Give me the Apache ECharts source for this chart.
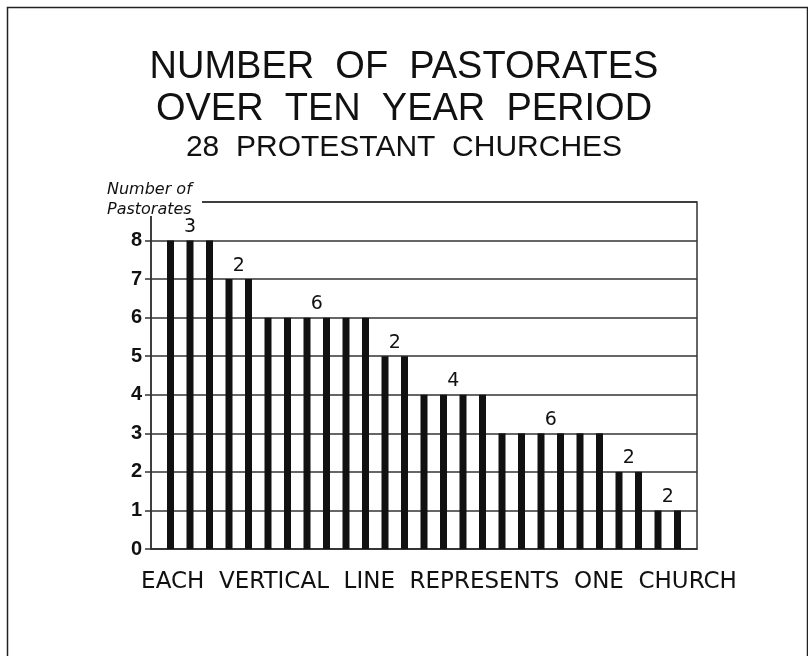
<!DOCTYPE html>
<html>
<head>
<meta charset="utf-8">
<script src="https://cdn.jsdelivr.net/npm/echarts@6/dist/echarts.min.js"></script>
<style>
  html, body { margin: 0; padding: 0; background: #fff; }
  #chart { width: 808px; height: 656px; }
</style>
</head>
<body>
<div id="chart"></div>
<script>
// number of pastorates per church, one bar per church, highest first
const pastorates = [8, 8, 8, 7, 7, 6, 6, 6, 6, 6, 6, 5, 5, 4, 4, 4, 4, 3, 3, 3, 3, 3, 3, 2, 2, 1, 1];
const yTicks = ['0', '1', '2', '3', '4', '5', '6', '7', '8'];

const titleLines = ['NUMBER  OF  PASTORATES', 'OVER  TEN  YEAR  PERIOD'];
const subTitle = '28  PROTESTANT  CHURCHES';
const footNote = 'EACH  VERTICAL  LINE  REPRESENTS  ONE  CHURCH';

const INK = '#111';
const LINE = '#333';
const FONT = 'Liberation Sans';

// bars sit at x = 1..27 on a 0..28 value axis
var barData = pastorates.map(function (v, i) { return [i + 1, v]; });

// group runs of equal values, label shows how many churches are in the run
var groups = [];
pastorates.forEach(function (v, i) {
  var last = groups[groups.length - 1];
  if (last && last.value == v) {
    last.end = i + 1;
    last.count++;
  } else {
    groups.push({ value: v, start: i + 1, end: i + 1, count: 1 });
  }
});
var groupData = groups.map(function (g) {
  return { value: [(g.start + g.end) / 2, g.value], count: g.count };
});

var chart = echarts.init(document.getElementById('chart'), null, { renderer: 'canvas' });

var option = {
  backgroundColor: '#fff',
  animation: false,
  title: [{
    text: titleLines.join('\n'),
    left: 'center',
    top: 42,
    textStyle: { fontFamily: FONT, fontSize: 38, fontWeight: 'normal', color: INK, lineHeight: 42 }
  }, {
    text: subTitle,
    left: 'center',
    top: 128,
    textStyle: { fontFamily: FONT, fontSize: 30, fontWeight: 'normal', color: INK }
  }],
  grid: {
    left: 151,
    right: 111,
    top: 202,
    bottom: 107,
    show: true,
    borderColor: LINE,
    borderWidth: 1.5
  },
  xAxis: {
    type: 'value',
    min: 0,
    max: 28,
    interval: 1,
    axisLine: { show: true, lineStyle: { color: LINE, width: 1.5 } },
    axisTick: { show: false },
    axisLabel: { show: false },
    splitLine: { show: false },
    name: footNote,
    nameLocation: 'middle',
    nameGap: 22,
    nameTextStyle: { fontFamily: 'DejaVu Sans', fontSize: 23, color: INK, padding: [0, 0, 0, 30] }
  },
  yAxis: {
    type: 'value',
    min: 0,
    max: 9,
    interval: 1,
    axisLine: { show: true, lineStyle: { color: LINE, width: 1.5 } },
    axisTick: { show: true, inside: false, length: 6, lineStyle: { color: LINE, width: 1.5 } },
    axisLabel: {
      margin: 9,
      fontFamily: FONT,
      fontSize: 20,
      fontWeight: 'bold',
      color: INK,
      formatter: function (v) { return yTicks[v] || ''; }
    },
    splitLine: { show: true, lineStyle: { color: LINE, width: 1.5 } }
  },
  series: [{
    type: 'bar',
    data: barData,
    barWidth: 7,
    itemStyle: { color: INK },
    z: 3
  }, {
    type: 'scatter',
    data: groupData,
    symbolSize: 0,
    itemStyle: { opacity: 1 },
    z: 4,
    label: {
      show: true,
      position: 'top',
      distance: 4,
      fontFamily: 'DejaVu Sans',
      fontSize: 19,
      color: INK,
      formatter: function (p) { return p.data.count; }
    }
  }],
  graphic: [{
    type: 'rect',
    left: 5,
    top: 5,
    shape: { width: 800, height: 680 },
    style: { fill: null, stroke: '#222', lineWidth: 1.5 },
    z: 1
  }, {
    type: 'rect',
    left: 104,
    top: 198,
    shape: { width: 98, height: 18 },
    style: { fill: '#fff' },
    z: 100
  }, {
    type: 'text',
    left: 107,
    top: 180,
    style: {
      text: 'Number of\nPastorates',
      font: 'italic 16px "DejaVu Sans"',
      fill: INK,
      lineHeight: 20
    },
    z: 101
  }]
};

chart.setOption(option);
</script>
</body>
</html>
